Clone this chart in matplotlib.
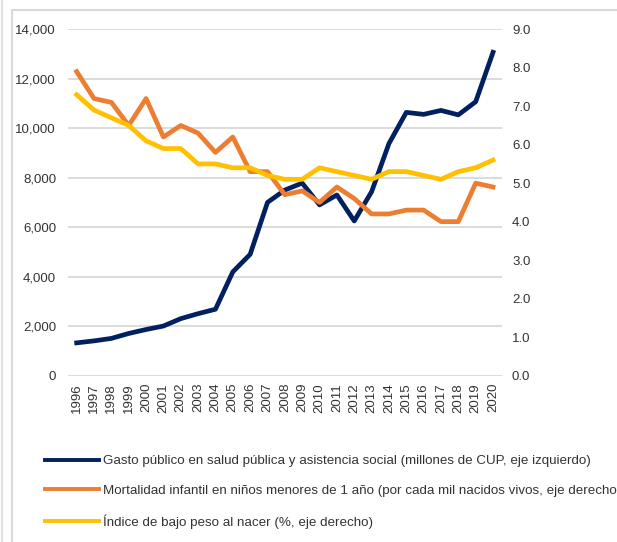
import matplotlib.pyplot as plt
from matplotlib.patches import Rectangle
from matplotlib.lines import Line2D

plt.rcParams['font.family'] = ['Liberation Sans', 'DejaVu Sans']

years = [str(y) for y in range(1996, 2021)]

# gasto publico en salud (millones de CUP) - eje izquierdo
gasto = [1320, 1400, 1500, 1700, 1860, 2000, 2300, 2500, 2680, 4190,
         4900, 7000, 7500, 7780, 6900, 7300, 6250, 7430, 9380, 10640,
         10560, 10720, 10540, 11070, 13070]
# mortalidad infantil (por mil nacidos vivos) - eje derecho
mortalidad = [7.9, 7.2, 7.1, 6.5, 7.2, 6.2, 6.5, 6.3, 5.8, 6.2,
              5.3, 5.3, 4.7, 4.8, 4.5, 4.9, 4.6, 4.2, 4.2, 4.3,
              4.3, 4.0, 4.0, 5.0, 4.9]
# indice de bajo peso al nacer (%) - eje derecho
bajo_peso = [7.3, 6.9, 6.7, 6.5, 6.1, 5.9, 5.9, 5.5, 5.5, 5.4,
             5.4, 5.2, 5.1, 5.1, 5.4, 5.3, 5.2, 5.1, 5.3, 5.3,
             5.2, 5.1, 5.3, 5.4, 5.6]

labels = [
    "Gasto público en salud pública y asistencia social (millones de CUP, eje izquierdo)",
    "Mortalidad infantil en niños menores de 1 año (por cada mil nacidos vivos, eje derecho)",
    "Índice de bajo peso al nacer (%, eje derecho)",
]

c_blue = '#002060'
c_orange = '#ED7D31'
c_yellow = '#FFC000'
c_grid = '#D9D9D9'
c_text = '#333333'

W, H = 617, 542
fig = plt.figure(figsize=(W / 100, H / 100), dpi=100)

# light borders like the original screenshot
fig.add_artist(Line2D([1.5 / W, 1.5 / W], [0, 1], color='#E0E0E0', lw=1.5, transform=fig.transFigure))
fig.add_artist(Rectangle((11.5 / W, -0.1), 1.0, 1 - 10 / H + 0.1, transform=fig.transFigure,
                         fill=False, ec='#D9D9D9', lw=1.5))

left, right, top, bottom = 68, 501.7, 29.3, 375.5
ax = fig.add_axes([left / W, 1 - bottom / H, (right - left) / W, (bottom - top) / H])
ax2 = ax.twinx()

x = range(len(years))
ax.plot(x, gasto, color=c_blue, lw=3.4, solid_joinstyle='round', zorder=3)
ax2.plot(x, mortalidad, color=c_orange, lw=3.4, solid_joinstyle='round', zorder=3)
ax2.plot(x, bajo_peso, color=c_yellow, lw=3.4, solid_joinstyle='round', zorder=4)

ax.set_xlim(-0.5, len(years) - 0.5)
ax.set_ylim(0, 14000)
ax2.set_ylim(0, 9)
ax.set_yticks(range(0, 14001, 2000))
ax.set_yticklabels([f"{v:,}" for v in range(0, 14001, 2000)])
ax2.set_yticks(list(range(10)))
ax2.set_yticklabels([f"{i:.1f}" for i in range(10)])
ax.set_xticks(list(x))
ax.set_xticklabels(years, rotation=90)

for a in (ax, ax2):
    for s in a.spines.values():
        s.set_visible(False)
    a.tick_params(length=0, labelsize=9.5, labelcolor=c_text)
ax.tick_params(axis='y', pad=8.6)
ax2.tick_params(axis='y', pad=7.4)
ax.tick_params(axis='x', pad=5.4)
ax.grid(axis='y', color=c_grid, lw=1.3)
ax.set_axisbelow(True)

handles = [Line2D([], [], color=c, lw=2.8) for c in (c_blue, c_orange, c_yellow)]
fig.legend(handles, labels, loc='upper left', bbox_to_anchor=(45 / W, 1 - 455 / H),
           frameon=False, fontsize=9.6, handlelength=4.05, handletextpad=0.3,
           labelspacing=1.3, borderpad=0, borderaxespad=0, labelcolor=c_text)

fig.savefig('out.png', dpi=100)
